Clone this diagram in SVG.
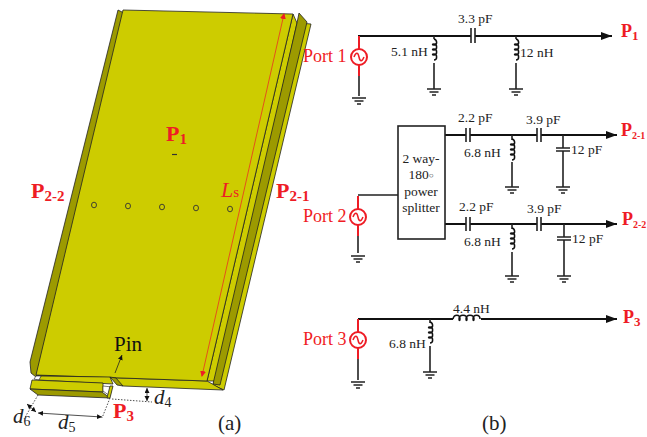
<svg xmlns="http://www.w3.org/2000/svg" width="647" height="437" viewBox="0 0 647 437">
<style>
text{font-family:"Liberation Serif","Times New Roman",serif}
.v{font-size:13.500px;fill:#222}
.port{font-size:18px;fill:#f01c24}
.p{font-size:22px;font-weight:bold;fill:#ee1c25}
.q{font-size:18px;font-weight:bold;fill:#ee1c25}
.d{font-size:21px;font-style:italic;fill:#222}
.ds{font-size:14px;fill:#222;font-style:normal}
.cap{font-size:21px;fill:#222}
.w{fill:none;stroke:#111;stroke-width:2}
.t{fill:none;stroke:#222;stroke-width:1.600}
.r{fill:none;stroke:#ee1c25;stroke-width:2}
.coil{fill:none;stroke:#111;stroke-width:1.500}
.y{fill:#cdcc00;stroke:#222;stroke-width:.8}
.o{fill:#9c9a00;stroke:#222;stroke-width:.8}
.dim{fill:none;stroke:#222;stroke-width:.8;stroke-dasharray:1.500 1.500}
.dimS{fill:none;stroke:#222;stroke-width:.8}
</style>
<defs>
<g id="gnd"><path d="M-7 0H7M-4.500 3H4.500M-2 6H2" fill="none" stroke="#222" stroke-width="1.500"/></g>
<g id="src"><circle r="8" fill="#fff" stroke="#ee1c25" stroke-width="2"/><path d="M-5 0C-3-5-1-5 0 0S3 5 5 0" fill="none" stroke="#ee1c25" stroke-width="1.500"/></g>
<path id="vc" class="coil" d="M0 0c3.500 1 3.500 6 0 6 -2 0 -2-1 0-1 3.500 0 3.500 6 0 6 -2 0 -2-1 0-1 3.500 0 3.500 6 0 6 -2 0 -2-1 0-1 3.500 0 3.500 6 0 6"/>
<marker id="a" markerUnits="userSpaceOnUse" markerWidth="11" markerHeight="8" refX="11" refY="4" orient="auto"><path d="M0 0L11 4L0 8Z" fill="#111"/></marker>
<marker id="ra" markerUnits="userSpaceOnUse" markerWidth="6" markerHeight="7" refX="5" refY="3" orient="auto-start-reverse"><path d="M0 0L6 3L0 6Z" fill="#ee1c25"/></marker>
<marker id="ka" markerUnits="userSpaceOnUse" markerWidth="6" markerHeight="6" refX="5" refY="2.500" orient="auto-start-reverse"><path d="M0 0L5 2.500L0 5Z" fill="#111"/></marker>
</defs>

<g id="antenna">
<polygon class="y" points="299,23 311,24 224,390 213,385"/>
<polygon class="y" points="293,14 297,23 217,381 207,381"/>
<polygon class="o" points="299,13 307,22 220,385 213,384 297,23"/>
<polygon class="y" points="36,375 207,381 223,390 123,386 110,377 41,376"/>
<polygon class="o" points="118,10 124,13 36,377 31,373 30,362"/>
<polygon class="y" points="123,10 293,14 207,381 36,375"/>
<polygon class="y" points="41,376 110,377 113,384 38,380"/>
<polygon class="o" points="110,377 116,378 123,386 117,385"/>
<polygon points="36,376 41,376 39,380 34,379" fill="#fff" stroke="#222" stroke-width=".6"/>
<polygon class="y" points="32,380 103,383 103,392 30,389"/>
<polygon class="o" points="30,389 102,392 110,398 38,395"/>
<polygon points="103,386 112,387 110,396 103,391" fill="#fff" stroke="#222" stroke-width=".6"/>
<polygon class="y" points="110,386 113,386 110,398 107,398"/>
<g fill="none" stroke="#333" stroke-width=".9">
<ellipse cx="94" cy="205" rx="2.500" ry="2.800"/><ellipse cx="128" cy="206" rx="2.500" ry="2.800"/><ellipse cx="162" cy="207" rx="2.500" ry="2.800"/><ellipse cx="196" cy="208" rx="2.500" ry="2.800"/><ellipse cx="230" cy="209" rx="2.500" ry="2.800"/>
</g>
<path d="M172 154.500h5" stroke="#333" stroke-width="1.200"/>
<path d="M284 14L202 376" fill="none" stroke="#ee1c25" stroke-width=".7" marker-start="url(#ra)" marker-end="url(#ra)"/>
<path d="M110 398L102 418M38 395L24 419M112 399L152 402" class="dim"/>
<path d="M38 413L102 417" class="dimS" marker-start="url(#ka)" marker-end="url(#ka)"/>
<path d="M27 404L36 412" class="dimS" marker-start="url(#ka)" marker-end="url(#ka)"/>
<path d="M147 388V401" class="dimS" marker-start="url(#ka)" marker-end="url(#ka)"/>
<path d="M115 373L122 355" class="dimS" marker-end="url(#ka)"/>
<text class="p" x="166" y="141">P<tspan dy="3" font-size="15">1</tspan></text>
<text class="p" x="31" y="198">P<tspan dy="3" font-size="15">2-2</tspan></text>
<text class="p" x="276" y="198">P<tspan dy="3" font-size="15">2-1</tspan></text>
<text x="221" y="197" font-size="22" font-style="italic" fill="#ee1c25">L<tspan font-size="15" font-style="normal">s</tspan></text>
<text x="114" y="351" font-size="21" fill="#111">Pin</text>
<text class="p" x="113" y="418">P<tspan dy="3" font-size="15">3</tspan></text>
<text class="d" x="154" y="404">d<tspan class="ds" dy="3">4</tspan></text>
<text class="d" x="58" y="429">d<tspan class="ds" dy="3">5</tspan></text>
<text class="d" x="13" y="423">d<tspan class="ds" dy="3">6</tspan></text>
<text class="cap" x="218" y="430">(a)</text>
</g>

<g id="connectors">
<path class="w" d="M358 36H612" marker-end="url(#a)"/>
<path class="t" d="M359 76V96M434 36V39M434 63V89M516 36V39M516 63V89"/>
<path class="r" d="M359 36V76"/>
<path class="w" d="M445 135H617" marker-end="url(#a)"/>
<path class="w" d="M445 224H617" marker-end="url(#a)"/>
<path class="t" d="M512 135V140M512 162V187M563 135V148M563 151V187M398 195H358M358 236V253M512 224V229M512 252V276M564 224V237M564 240V276"/>
<path class="r" d="M358 196V236"/>
<path class="w" d="M358 319H453M481 319H617" marker-end="url(#a)"/>
<path class="t" d="M430 319V323M430 346V372M358 359V380"/>
<path class="r" d="M358 319V359"/>
</g>

<g id="port1"><use href="#src" x="359" y="57"/><use href="#gnd" x="359" y="98"/><text class="port" x="303" y="62">Port 1</text></g>
<g id="L1"><use href="#vc" x="434" y="39"/><use href="#gnd" x="434" y="89"/><text class="v" x="391" y="56">5.1 nH</text></g>
<g id="C1"><rect x="471" y="30" width="4" height="12" fill="#fff"/><path class="t" d="M471 28V43M475 28V43"/><text class="v" x="458" y="23">3.3 pF</text></g>
<g id="L2"><use href="#vc" x="516" y="39"/><use href="#gnd" x="516" y="89"/><text class="v" x="520" y="57">12 nH</text></g>
<text id="P1" class="q" x="621" y="37">P<tspan dy="3" font-size="13">1</tspan></text>

<g id="splitter"><rect x="398" y="126" width="47" height="113" fill="#fff" stroke="#222" stroke-width="1.600"/>
<text class="v" x="421" y="163" text-anchor="middle">2 way-</text><text class="v" x="421" y="179" text-anchor="middle">180<tspan font-size="8" dy="-1">○</tspan></text><text class="v" x="421" y="196" text-anchor="middle">power</text><text class="v" x="421" y="212" text-anchor="middle">splitter</text></g>
<g id="port2"><use href="#src" x="358" y="217"/><use href="#gnd" x="358" y="256"/><text class="port" x="303" y="222">Port 2</text></g>
<g id="C21"><rect x="466" y="128" width="4" height="14" fill="#fff"/><path class="t" d="M466 128V142M470 128V142"/><text class="v" x="458" y="122">2.2 pF</text></g>
<g id="L21"><use href="#vc" x="512" y="139"/><use href="#gnd" x="512" y="187"/><text class="v" x="464" y="157">6.8 nH</text></g>
<g id="C22"><rect x="537" y="128" width="4" height="14" fill="#fff"/><path class="t" d="M537 128V142M541 128V142"/><text class="v" x="526" y="124">3.9 pF</text></g>
<g id="C23"><path class="t" d="M556 148H570M556 151H570"/><use href="#gnd" x="563" y="187"/><text class="v" x="571" y="154">12 pF</text></g>
<text id="P21" class="q" x="621" y="136">P<tspan dy="3" font-size="10">2-1</tspan></text>
<g id="C24"><rect x="466" y="217" width="4" height="14" fill="#fff"/><path class="t" d="M466 217V231M470 217V231"/><text class="v" x="459" y="211">2.2 pF</text></g>
<g id="L22"><use href="#vc" x="512" y="228"/><use href="#gnd" x="512" y="276"/><text class="v" x="464" y="246">6.8 nH</text></g>
<g id="C25"><rect x="537" y="217" width="4" height="14" fill="#fff"/><path class="t" d="M537 217V231M541 217V231"/><text class="v" x="527" y="213">3.9 pF</text></g>
<g id="C26"><path class="t" d="M557 237H571M557 240H571"/><use href="#gnd" x="564" y="276"/><text class="v" x="572" y="243">12 pF</text></g>
<text id="P22" class="q" x="622" y="225">P<tspan dy="3" font-size="10">2-2</tspan></text>

<g id="port3"><use href="#src" x="358" y="340"/><use href="#gnd" x="358" y="382"/><text class="port" x="303" y="345">Port 3</text></g>
<g id="L3"><use href="#vc" x="430" y="322"/><use href="#gnd" x="430" y="372"/><text class="v" x="389" y="348">6.8 nH</text></g>
<g id="L4"><path class="coil" d="M453 319c1-5 7-5 7 0 0 2-1 2-1 0 0-5 8-5 8 0 0 2-1 2-1 0 0-5 8-5 8 0 0 2-1 2-1 0 0-5 7-5 7 0"/><text class="v" x="453" y="313">4.4 nH</text></g>
<text id="P3" class="q" x="623" y="323">P<tspan dy="3" font-size="13">3</tspan></text>
<text id="capb" class="cap" x="482" y="430">(b)</text>
</svg>
